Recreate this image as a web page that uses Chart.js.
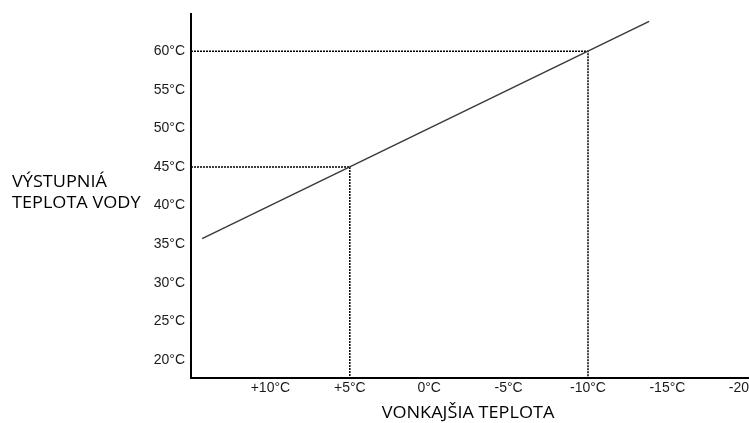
<!DOCTYPE html>
<html>
<head>
<meta charset="utf-8">
<script src="https://cdn.jsdelivr.net/npm/chart.js@4/dist/chart.umd.min.js"></script>
<style>
  html, body { margin: 0; padding: 0; background: #fff; overflow: hidden; }
  #wrap { width: 800px; height: 423px; }
</style>
</head>
<body>
<div id="wrap"><canvas id="chart"></canvas></div>
<script>
// 데이터
const xTicks = [10, 5, 0, -5, -10, -15, -20];
const yTicks = [20, 25, 30, 35, 40, 45, 50, 55, 60];
const curveX = [14.3, -13.85];
const curveY = [35.7, 63.85];
// 참고선 (점선) 포인트
const refX = [5, -10];
const refY = [45, 60];

const xMin = -23.35, xMax = 15.0;
const yMin = 17.65, yMax = 64.76;

const xTitle = 'VONKAJŠIA TEPLOTA';
const yTitle = ['VÝSTUPNIÁ', 'TEPLOTA VODY'];

// 점선 데이터셋 생성
function refLine(px, py) {
    return {
        data: [{ x: xMax, y: py }, { x: px, y: py }, { x: px, y: yMin }],
        borderColor: '#000',
        borderWidth: 1.5,
        borderDash: [2, 1],
        pointRadius: 0,
        fill: false
    };
}

// 축 제목 그리기 (가로 방향, 약간 넓게)
function wideText(c, text, x, y, align) {
    const sx = 1.13;
    c.save();
    c.translate(x, y);
    c.scale(sx, 1);
    c.textAlign = align;
    c.fillText(text, 0, 0);
    c.restore();
}

const titlePlugin = {
    id: 'titles',
    afterDraw(chart) {
        const c = chart.ctx;
        c.save();
        c.fillStyle = '#000';
        c.font = '16px "Open Sans", "Noto Sans", sans-serif';
        c.textBaseline = 'alphabetic';
        wideText(c, yTitle[0], 12, 187, 'left');
        wideText(c, yTitle[1], 12, 208, 'left');
        wideText(c, xTitle, 468, 418, 'center');
        c.restore();
    }
};

const fmtX = v => (v > 0 ? '+' : '') + v + '°C';

new Chart(document.getElementById('chart'), {
    type: 'line',
    data: {
        datasets: [
            {
                data: curveX.map((x, i) => ({ x, y: curveY[i] })),
                borderColor: '#3a3a3a',
                borderWidth: 1.5,
                pointRadius: 0,
                fill: false
            },
            ...refX.map((x, i) => refLine(x, refY[i]))
        ]
    },
    options: {
        responsive: true,
        maintainAspectRatio: false,
        animation: false,
        layout: { padding: { top: 12, left: 0, right: 0, bottom: 0 } },
        plugins: { legend: { display: false }, tooltip: { enabled: false } },
        scales: {
            x: {
                type: 'linear',
                reverse: true,
                min: xMin,
                max: xMax,
                grid: { display: false, drawTicks: false },
                border: { color: '#000', width: 2 },
                afterBuildTicks: s => { s.ticks = xTicks.map(v => ({ value: v })); },
                afterFit: s => { s.height = 45; },
                ticks: {
                    autoSkip: false,
                    maxRotation: 0,
                    padding: 2,
                    color: '#1a1a1a',
                    font: { family: 'Liberation Sans, Arial, sans-serif', size: 14 },
                    callback: v => fmtX(v)
                }
            },
            y: {
                type: 'linear',
                min: yMin,
                max: yMax,
                grid: { display: false, drawTicks: false },
                border: { color: '#000', width: 2 },
                afterBuildTicks: s => { s.ticks = yTicks.map(v => ({ value: v })); },
                afterFit: s => { s.width = 191; },
                ticks: {
                    autoSkip: false,
                    padding: 6,
                    color: '#1a1a1a',
                    font: { family: 'Liberation Sans, Arial, sans-serif', size: 14 },
                    callback: v => v + '°C'
                }
            }
        }
    },
    plugins: [titlePlugin]
});
</script>
</body>
</html>
